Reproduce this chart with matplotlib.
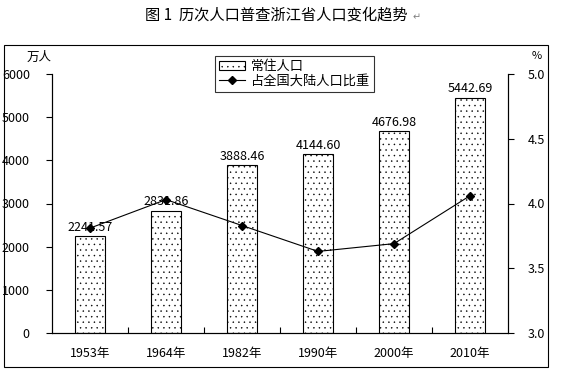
import matplotlib
matplotlib.use("Agg")
import matplotlib.pyplot as plt
from matplotlib.patches import Rectangle, Patch
from matplotlib.lines import Line2D
import numpy as np

plt.rcParams['font.family'] = ['Noto Sans CJK SC', 'DejaVu Sans']
plt.rcParams['hatch.linewidth'] = 0.3

years = ["1953年", "1964年", "1982年", "1990年", "2000年", "2010年"]
population = [2241.57, 2831.86, 3888.46, 4144.60, 4676.98, 5442.69]
share = [3.81, 4.03, 3.83, 3.63, 3.69, 4.06]

fig = plt.figure(figsize=(5.70, 3.71), dpi=100)
ax = fig.add_axes([52 / 570, 1 - 333 / 371, 456 / 570, 259 / 371])
ax2 = ax.twinx()

x = np.arange(len(years))
ax.bar(x, population, width=0.4, color="white", edgecolor="black",
       linewidth=0.8, hatch="...", zorder=2)
for xi, v in zip(x, population):
    ax.text(xi, v + 60, f"{v:.2f}", ha="center", va="bottom", fontsize=9,
            zorder=5)

ax2.plot(x, share, color="black", linewidth=0.8, marker="D", markersize=4.5,
         zorder=4)

ax.set_xlim(-0.5, len(years) - 0.5)
ax.set_ylim(0, 6000)
ax.set_yticks(range(0, 6001, 1000))
ax2.set_ylim(3.0, 5.0)
ax2.set_yticks([3.0, 3.5, 4.0, 4.5, 5.0])
ax2.set_yticklabels([f"{v:.1f}" for v in [3.0, 3.5, 4.0, 4.5, 5.0]])

ax.set_xticks(x)
ax.set_xticklabels(years)
ax.set_xticks(np.arange(0.5, len(years) - 1, 1), minor=True)
ax.tick_params(axis="x", which="major", length=0, pad=10, labelsize=9)
ax.tick_params(axis="x", which="minor", direction="in", length=4, width=0.8)
ax.tick_params(axis="y", direction="out", length=4, width=0.8, labelsize=9,
               pad=12)
ax2.tick_params(axis="y", direction="out", length=4, width=0.8, labelsize=9,
                pad=10)

for a in (ax, ax2):
    a.spines["top"].set_visible(False)
    for s in ("left", "right", "bottom"):
        a.spines[s].set_linewidth(0.8)

ax.text(0.0, 1.04, "万人", transform=ax.transAxes, ha="right",
        va="bottom", fontsize=9)
ax2.text(1.064, 1.05, "%", transform=ax2.transAxes, ha="center",
         va="bottom", fontsize=8)

handles = [Patch(facecolor="white", edgecolor="black", hatch="...",
                 linewidth=0.8),
           Line2D([], [], color="black", linewidth=0.8, marker="D",
                  markersize=4.5)]
leg = ax.legend(handles, ["常住人口", "占全国大陆人口比重"],
                loc="upper left", bbox_to_anchor=(163 / 456, 1.07),
                fontsize=9.5, frameon=True, fancybox=False, borderpad=0.3,
                labelspacing=0.15, handlelength=2.0, handletextpad=0.4,
                borderaxespad=0)
leg.get_frame().set_edgecolor("black")
leg.get_frame().set_linewidth(0.8)

fig.patches.append(Rectangle((4 / 570, 1 - 367 / 371), 544 / 570,
                             322 / 371, transform=fig.transFigure,
                             fill=False, edgecolor="black", linewidth=0.8))

fig.text(276 / 570, 1 - 15 / 371, "图 1  历次人口普查浙江省人口变化趋势",
         ha="center", va="center", fontsize=11)
fig.text(413 / 570, 1 - 17 / 371, "↵", ha="left", va="center",
         fontsize=7, color="gray", family=["DejaVu Sans"])

fig.savefig("out.png", dpi=100)
